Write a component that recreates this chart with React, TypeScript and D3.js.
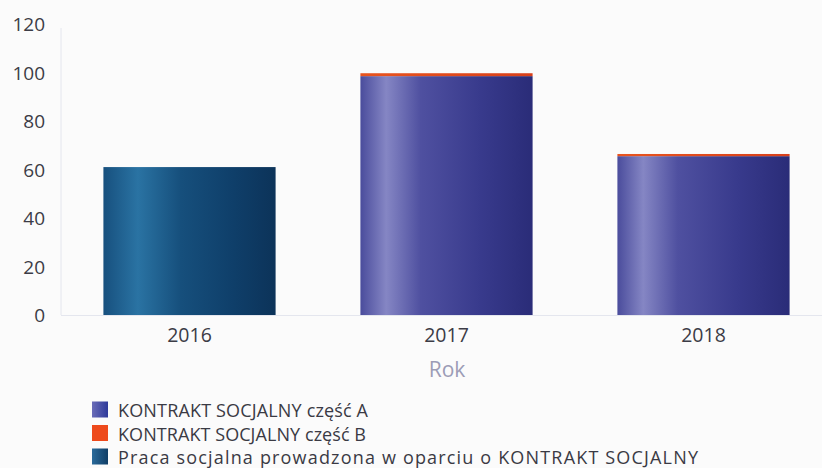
import React from "react";
import * as d3 from "d3";

const categories = ["2016", "2017", "2018"];
const seriesNames = [
  "KONTRAKT SOCJALNY część A",
  "KONTRAKT SOCJALNY część B",
  "Praca socjalna prowadzona w oparciu o KONTRAKT SOCJALNY",
];
const partA = [0, 98.5, 65.5];
const partB = [0, 1.2, 0.9];
const praca = [61, 0, 0];
const yTicks = [0, 20, 40, 60, 80, 100, 120];

const W = 822;
const H = 468;
const FONT = "'Open Sans', 'Noto Sans', sans-serif";

export default function App() {
  const x = d3.scaleBand<string>().domain(categories).range([61, 832]).paddingInner(0.33).paddingOuter(0.165);
  const y = d3.scaleLinear().domain([0, 120]).range([315, 24]);
  const rows = categories.map((c, i) => ({ cat: c, a: partA[i], b: partB[i], p: praca[i] }));
  const stack = d3.stack<any>().keys(["p", "a", "b"])(rows as any);
  const fills: Record<string, string> = { p: "url(#gTeal)", a: "url(#gPurple)", b: "url(#gOrange)" };
  const legendColors = ["url(#gPurpleL)", "#ee4a1c", "url(#gTealL)"];
  const legendLengths = [250, 248, 580];

  return (
    <svg width={W} height={H} style={{ position: "absolute", left: 0, top: 0, background: "#fbfbfb" }}>
      <defs>
        <linearGradient id="gTeal" x1="0" x2="1" y1="0" y2="0">
          <stop offset="0" stopColor="#17507e" />
          <stop offset="0.2" stopColor="#2a73a3" />
          <stop offset="0.45" stopColor="#164f7c" />
          <stop offset="0.75" stopColor="#0f3f6a" />
          <stop offset="1" stopColor="#0c3359" />
        </linearGradient>
        <linearGradient id="gPurple" x1="0" x2="1" y1="0" y2="0">
          <stop offset="0" stopColor="#4a4c9c" />
          <stop offset="0.15" stopColor="#8586c4" />
          <stop offset="0.35" stopColor="#4f50a0" />
          <stop offset="0.7" stopColor="#383a8c" />
          <stop offset="1" stopColor="#2a2c78" />
        </linearGradient>
        <linearGradient id="gOrange" x1="0" x2="1" y1="0" y2="0">
          <stop offset="0" stopColor="#e8541e" />
          <stop offset="1" stopColor="#d8401a" />
        </linearGradient>
        <linearGradient id="gPurpleL" x1="0" x2="1" y1="0" y2="0">
          <stop offset="0" stopColor="#6a6cb8" />
          <stop offset="1" stopColor="#2e3a9a" />
        </linearGradient>
        <linearGradient id="gTealL" x1="0" x2="1" y1="0" y2="0">
          <stop offset="0" stopColor="#2a6a9a" />
          <stop offset="1" stopColor="#103e66" />
        </linearGradient>
      </defs>
      <line x1={61} x2={61} y1={28} y2={315} stroke="#e4e6ee" strokeWidth={1} />
      <line x1={61} x2={822} y1={315.5} y2={315.5} stroke="#e4e6ee" strokeWidth={1} />
      {yTicks.map((t) => (
        <text key={t} x={45} y={y(t)} textAnchor="end" dominantBaseline="central" fontFamily={FONT} fontSize={19} fill="#3c3c46">
          {t}
        </text>
      ))}
      {stack.map((s) =>
        s.map((d: any, i: number) => {
          const h = y(d[0]) - y(d[1]);
          if (h <= 0) return null;
          return (
            <rect key={s.key + i} x={x(categories[i])} width={x.bandwidth()} y={y(d[1])} height={h} fill={fills[s.key as string]} />
          );
        })
      )}
      {categories.map((c) => (
        <text key={c} x={(x(c) as number) + x.bandwidth() / 2} y={334} textAnchor="middle" dominantBaseline="central" fontFamily={FONT} fontSize={19.5} fill="#3c3c46">
          {c}
        </text>
      ))}
      <text x={447} y={369} textAnchor="middle" dominantBaseline="central" fontFamily={FONT} fontSize={21} fill="#9c9cb6">
        Rok
      </text>
      {seriesNames.map((n, i) => (
        <g key={n} transform={`translate(92, ${410 + i * 23.5})`}>
          <rect x={0} y={-8.5} width={16} height={16} fill={legendColors[i]} />
          <text x={26} y={0} dominantBaseline="central" fontFamily={FONT} fontSize={18} fill="#3a3a44" textLength={legendLengths[i]} lengthAdjust="spacing">
            {n}
          </text>
        </g>
      ))}
    </svg>
  );
}
